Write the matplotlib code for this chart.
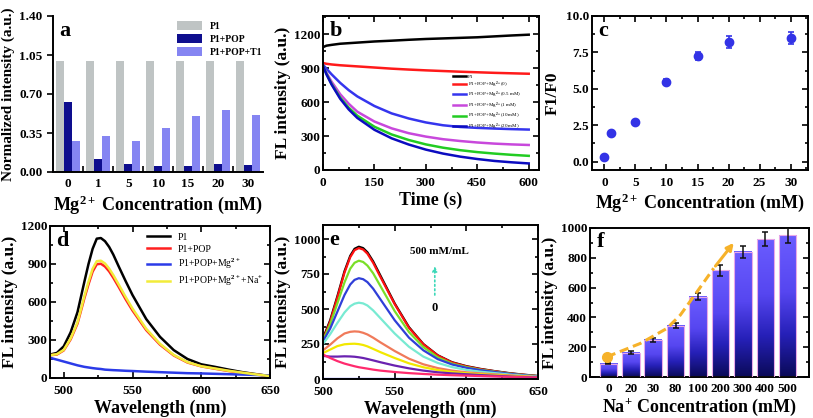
import numpy as np
import matplotlib
matplotlib.use("Agg")
import matplotlib.pyplot as plt
from matplotlib.colors import LinearSegmentedColormap
from matplotlib.ticker import MultipleLocator, FixedLocator

plt.rcParams["font.family"] = ["Liberation Serif", "DejaVu Serif"]
plt.rcParams["font.weight"] = "bold"
plt.rcParams["axes.labelweight"] = "bold"
plt.rcParams["axes.linewidth"] = 1.4
plt.rcParams["mathtext.fontset"] = "custom"
plt.rcParams["mathtext.rm"] = "Liberation Serif:bold"
plt.rcParams["mathtext.it"] = "Liberation Serif:bold"
plt.rcParams["mathtext.bf"] = "Liberation Serif:bold"

# ---- panel a: normalized intensity bars
a_conc = ["0", "1", "5", "10", "15", "20", "30"]
a_p1 = [1.0, 1.0, 1.0, 1.0, 1.0, 1.0, 1.0]
a_pop = [0.63, 0.12, 0.07, 0.055, 0.055, 0.07, 0.06]
a_t1 = [0.275, 0.32, 0.275, 0.395, 0.50, 0.555, 0.515]

# ---- panel b: kinetics
b_time = [0, 10, 25, 50, 75, 100, 150, 200, 250, 300, 350, 400, 450, 500, 550, 600]
b_p1 = [1085, 1098, 1105, 1115, 1120, 1125, 1135, 1142, 1150, 1157, 1162, 1167, 1172, 1180, 1188, 1195]
b_mg0 = [945, 938, 932, 925, 920, 915, 905, 895, 887, 880, 874, 868, 863, 858, 854, 850]
b_mg05 = [930, 895, 845, 770, 705, 650, 565, 500, 455, 420, 395, 380, 372, 366, 361, 357]
b_mg1 = [920, 860, 780, 670, 585, 515, 428, 368, 325, 295, 272, 256, 243, 233, 226, 221]
b_mg10 = [920, 850, 760, 640, 550, 480, 382, 314, 265, 226, 197, 175, 158, 145, 134, 125]
b_mg20 = [920, 845, 755, 630, 535, 460, 355, 280, 225, 180, 145, 118, 97, 80, 68, 58]
b_labels = ["P1", "P1+POP+Mg$^{2+}$(0)", "P1+POP+Mg$^{2+}$(0.5 mM)",
            "P1+POP+Mg$^{2+}$(1 mM)", "P1+POP+Mg$^{2+}$(10 mM)", "P1+POP+Mg$^{2+}$(20 mM)"]

# ---- panel c: F1/F0
c_conc = [0, 1, 5, 10, 15, 20, 30]
c_ratio = [0.30, 2.0, 2.72, 5.5, 7.25, 8.2, 8.5]
c_err = [0.1, 0.12, 0.12, 0.15, 0.3, 0.4, 0.4]

# ---- panel d: spectra
d_wl = [490, 495, 500, 505, 510, 515, 518, 521, 524, 527, 530, 533, 536, 540, 545, 550,
        560, 570, 580, 590, 600, 610, 620, 630, 640, 650]
d_p1 = [185, 198, 250, 360, 520, 760, 900, 1020, 1100, 1105, 1080, 1035, 975, 880, 765, 655,
        465, 325, 220, 150, 108, 88, 66, 46, 30, 15]
d_pop = [180, 185, 218, 305, 430, 630, 740, 840, 898, 902, 880, 842, 792, 718, 622, 533,
         378, 263, 178, 122, 92, 73, 55, 40, 27, 15]
d_mg = [160, 145, 130, 115, 100, 88, 83, 78, 74, 71, 66, 64, 62, 60, 57, 55,
        50, 46, 42, 38, 36, 33, 30, 27, 24, 20]
d_na = [180, 188, 222, 312, 440, 646, 760, 862, 922, 926, 904, 864, 813, 737, 640, 548,
        388, 270, 182, 125, 93, 75, 57, 42, 28, 15]

# ---- panel e: Na+ titration spectra
e_wl = [500, 505, 510, 515, 519, 522, 525, 528, 531, 535, 540, 550, 560, 570, 580,
        590, 600, 610, 620, 630, 640, 650]
e_curves = [
    [290, 420, 590, 770, 880, 930, 945, 935, 905, 840, 740, 540, 370, 250, 170, 120, 92, 72, 56, 42, 31, 22],
    [280, 410, 580, 760, 870, 920, 935, 925, 895, 830, 730, 535, 365, 248, 168, 118, 90, 70, 55, 40, 30, 20],
    [275, 390, 540, 690, 788, 830, 845, 836, 810, 755, 665, 485, 335, 228, 155, 110, 85, 66, 52, 38, 28, 20],
    [270, 360, 480, 600, 675, 708, 720, 713, 692, 645, 570, 420, 295, 205, 142, 104, 80, 63, 50, 37, 27, 18],
    [250, 320, 400, 475, 520, 538, 545, 540, 525, 490, 435, 325, 230, 160, 115, 85, 65, 52, 42, 32, 24, 16],
    [205, 245, 290, 325, 337, 340, 338, 330, 318, 295, 262, 200, 145, 105, 78, 60, 48, 40, 33, 26, 20, 14],
    [185, 210, 235, 248, 251, 252, 249, 243, 233, 215, 192, 150, 112, 84, 64, 50, 41, 34, 28, 22, 17, 12],
    [165, 160, 160, 162, 161, 159, 155, 150, 143, 133, 120, 96, 76, 60, 48, 40, 34, 28, 23, 18, 14, 10],
    [175, 150, 128, 110, 99, 91, 84, 79, 74, 67, 60, 50, 42, 36, 31, 27, 24, 21, 18, 15, 12, 10],
]
e_colors = ["#000000", "#FF1010", "#7ADF28", "#2F3FD8", "#78EAD2",
            "#F07A5A", "#F2E800", "#6A22B0", "#FF2A6E"]
e_base_wl = [500, 650]
e_base = [3, 3]

# ---- panel f: Na+ bars
f_conc = ["0", "20", "30", "80", "100", "200", "300", "400", "500"]
f_vals = [90, 163, 250, 345, 540, 715, 840, 925, 950]
f_err = [6, 9, 12, 15, 25, 35, 42, 45, 48]
f_trend_x = [-0.07, 1.42, 2.61, 3.21, 3.96, 4.70, 5.67]
f_trend_y = [135, 225, 326, 416, 573, 730, 915]

W, H = 813, 418
fig = plt.figure(figsize=(W / 100, H / 100), dpi=100)


def add_ax(l, r, t, b):
    return fig.add_axes([l / W, 1 - b / H, (r - l) / W, (b - t) / H])


def style(ax, full=True):
    ax.tick_params(which="both", direction="in", labelsize=9.5, width=1.2,
                   top=full, right=full, pad=2)
    ax.tick_params(axis="x", which="both", pad=5)
    ax.tick_params(which="major", length=4)
    ax.tick_params(which="minor", length=2)
    for lab in ax.get_xticklabels() + ax.get_yticklabels():
        lab.set_fontweight("bold")


def letter(ax, s):
    ax.text(0.03, 0.97, s, transform=ax.transAxes, fontsize=16,
            fontweight="bold", va="top", ha="left")


XLAB = 13
YLAB = 12.5

# ---- a
ax = add_ax(53, 263, 16, 172)
x = np.arange(len(a_conc))
w = 0.27
ax.bar(x - w, a_p1, w, color="#BFC4C4", label="P1")
ax.bar(x, a_pop, w, color="#0E0E8E", label="P1+POP")
ax.bar(x + w, a_t1, w, color="#8585F2", label="P1+POP+T1")
ax.set_xlim(-0.51, 6.5)
ax.set_ylim(0, 1.40)
ax.set_yticks([0, 0.35, 0.70, 1.05, 1.40])
ax.set_yticklabels(["0.00", "0.35", "0.70", "1.05", "1.40"])
ax.set_xticks(x)
ax.set_xticklabels(a_conc)
ax.xaxis.set_minor_locator(FixedLocator(x[:-1] + 0.5))
ax.spines["top"].set_visible(False)
ax.spines["right"].set_visible(False)
ax.tick_params(axis="x", which="major", length=0, labelsize=9.5, pad=4)
ax.tick_params(axis="x", which="minor", direction="in", length=4, width=1.2)
ax.tick_params(axis="y", which="major", direction="out", length=4, width=1.2, labelsize=9.5)
for lab in ax.get_xticklabels() + ax.get_yticklabels():
    lab.set_fontweight("bold")
ax.set_ylabel("Normalized intensity (a.u.)", fontsize=11, labelpad=3)
ax.set_xlabel("Mg$^{2+}$ Concentration (mM)", fontsize=XLAB, labelpad=3)
ax.legend(loc="upper right", frameon=False, handlelength=2.6,
          handleheight=1.0, borderaxespad=0.1, labelspacing=0.35,
          bbox_to_anchor=(1.02, 1.0), prop={"weight": "bold", "size": 7})
letter(ax, "a")

# ---- b
ax = add_ax(323, 539, 16, 170)
for ys, col, lab in zip([b_p1, b_mg0, b_mg05, b_mg1, b_mg10, b_mg20],
                        ["#000000", "#FF1A1A", "#3535EE", "#C848DC", "#22CC22", "#0C0CC0"],
                        b_labels):
    ax.plot(b_time, ys, color=col, lw=1.8, label=lab)
ax.set_xlim(0, 630)
ax.set_ylim(0, 1360)
ax.set_xticks([0, 150, 300, 450, 600])
ax.set_yticks([0, 300, 600, 900, 1200])
ax.xaxis.set_minor_locator(MultipleLocator(75))
ax.yaxis.set_minor_locator(MultipleLocator(150))
style(ax)
ax.set_ylabel("FL intensity (a.u.)", fontsize=YLAB, labelpad=2)
ax.set_xlabel("Time (s)", fontsize=XLAB, labelpad=2)
ax.legend(loc="upper left", bbox_to_anchor=(0.6, 0.62), frameon=False,
          handlelength=2.6, handletextpad=0.4, labelspacing=0.05, borderaxespad=0,
          borderpad=0, prop={"weight": "normal", "size": 3.6})
letter(ax, "b")

# ---- c
ax = add_ax(592, 808, 16, 170)
ax.errorbar(c_conc, c_ratio, yerr=c_err, fmt="o", ms=6, color="#3333E6",
            ecolor="#3333E6", elinewidth=1.2, capsize=2, capthick=1.2)
ax.plot(c_conc, c_ratio, "o", ms=1.8, color="#A8A8FF")
ax.set_xlim(-2, 32.8)
ax.set_ylim(-0.57, 10)
ax.set_xticks([0, 5, 10, 15, 20, 25, 30])
ax.set_yticks([0, 2.5, 5, 7.5, 10])
ax.set_yticklabels(["0.0", "2.5", "5.0", "7.5", "10.0"])
ax.xaxis.set_minor_locator(MultipleLocator(2.5))
ax.yaxis.set_minor_locator(MultipleLocator(1.25))
style(ax)
ax.set_ylabel("F1/F0", fontsize=YLAB, labelpad=4)
ax.set_xlabel("Mg$^{2+}$ Concentration (mM)", fontsize=XLAB, labelpad=2)
letter(ax, "c")

# ---- d
ax = add_ax(50, 270, 226, 378)
ax.plot(d_wl, d_p1, color="#000000", lw=1.8, label="P1")
ax.plot(d_wl, d_pop, color="#FF2020", lw=1.8, label="P1+POP")
ax.plot(d_wl, d_mg, color="#2B3BE8", lw=1.8, label="P1+POP+Mg$^{2+}$")
ax.plot(d_wl, d_na, color="#F2EC3A", lw=1.8, label="P1+POP+Mg$^{2+}$+Na$^{+}$")
ax.set_xlim(490, 650)
ax.set_ylim(0, 1200)
ax.set_xticks([500, 550, 600, 650])
ax.set_yticks([0, 300, 600, 900, 1200])
ax.xaxis.set_minor_locator(MultipleLocator(25))
ax.yaxis.set_minor_locator(MultipleLocator(150))
style(ax)
ax.set_ylabel("FL intensity (a.u.)", fontsize=YLAB, labelpad=2)
ax.set_xlabel("Wavelength (nm)", fontsize=XLAB, labelpad=2)
ax.legend(loc="upper right", frameon=False, handlelength=2.4,
          labelspacing=0.3, borderaxespad=0.3,
          prop={"weight": "normal", "size": 7})
letter(ax, "d")

# ---- e
ax = add_ax(323, 538, 225, 379)
for ys, col in zip(e_curves, e_colors):
    ax.plot(e_wl, ys, color=col, lw=1.6)
ax.plot(e_base_wl, e_base, color="#2020FF", lw=1.6)
ax.set_xlim(500, 650)
ax.set_ylim(0, 1100)
ax.set_xticks([500, 550, 600, 650])
ax.set_yticks([0, 250, 500, 750, 1000])
ax.xaxis.set_minor_locator(MultipleLocator(25))
ax.yaxis.set_minor_locator(MultipleLocator(125))
style(ax)
ax.set_ylabel("FL intensity (a.u.)", fontsize=YLAB, labelpad=2)
ax.set_xlabel("Wavelength (nm)", fontsize=XLAB, labelpad=2)
ax.text(581, 912, "500 mM/mL", fontsize=8, fontweight="bold", ha="center", va="center")
ax.text(578, 510, "0", fontsize=9, fontweight="bold", ha="center", va="center")
ax.annotate("", xy=(578, 825), xytext=(578, 580),
            arrowprops=dict(arrowstyle="-|>", color="#3CD8B8", lw=1.2,
                            linestyle=":", mutation_scale=7))
letter(ax, "e")

# ---- f
ax = add_ax(590, 809, 228, 377)
fx = np.arange(len(f_conc))
bw = 0.78
cmap_f = LinearSegmentedColormap.from_list(
    "fbar", [(0, "#0A0A58"), (0.3, "#2620B8"), (0.6, "#5646F0"), (1, "#6A5CFF")])
grad = np.linspace(0, 1, 200).reshape(-1, 1)
for i, v in enumerate(f_vals):
    ax.imshow(grad, extent=[i - bw / 2, i + bw / 2, 0, v], origin="lower",
              aspect="auto", cmap=cmap_f, zorder=2)
ax.bar(fx, f_vals, bw, fill=False, edgecolor="#E8A8E8", lw=0.8, zorder=3)
ax.errorbar(fx, f_vals, yerr=f_err, fmt="none", ecolor="#111111",
            elinewidth=1.1, capsize=2, capthick=1.1, zorder=4)
ax.plot(f_trend_x[:-1], f_trend_y[:-1], color="#F6B22A", lw=2.2,
        ls=(0, (3, 1.6)), zorder=5)
ax.annotate("", xy=(f_trend_x[-1], f_trend_y[-1]),
            xytext=(f_trend_x[-2], f_trend_y[-2]),
            arrowprops=dict(arrowstyle="-|>", color="#F6B22A", lw=2.2,
                            mutation_scale=10), zorder=5)
ax.plot(f_trend_x[0], f_trend_y[0], "o", ms=7, color="#F6B22A", zorder=6)
ax.set_xlim(-0.82, 8.95)
ax.set_ylim(0, 1000)
ax.set_xticks(fx)
ax.set_xticklabels(f_conc)
ax.set_yticks([0, 200, 400, 600, 800, 1000])
ax.yaxis.set_minor_locator(MultipleLocator(100))
style(ax)
ax.tick_params(axis="x", which="major", length=0, pad=4)
ax.set_ylabel("FL intensity (a.u.)", fontsize=YLAB, labelpad=2)
ax.set_xlabel("Na$^{+}$ Concentration (mM)", fontsize=XLAB, labelpad=2)
letter(ax, "f")

fig.savefig("out.png", dpi=100)
